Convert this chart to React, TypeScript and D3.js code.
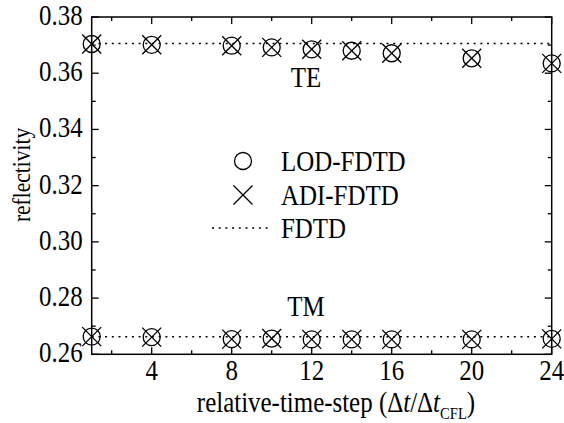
import { scaleLinear } from "d3";

// relative time step (Δt/Δt_CFL)
const steps = [1, 4, 8, 10, 12, 14, 16, 20, 24];

// reflectivity, TE polarisation
const lodTE = [0.3704, 0.3701, 0.3698, 0.3692, 0.3685, 0.368, 0.3671, 0.3653, 0.3635];
const adiTE = [0.3704, 0.3701, 0.3698, 0.3692, 0.3685, 0.368, 0.3671, 0.3653, 0.3635];
// reflectivity, TM polarisation
const lodTM = [0.2663, 0.2661, 0.2654, 0.2656, 0.2653, 0.2653, 0.2653, 0.2653, 0.2655];
const adiTM = [0.2663, 0.2661, 0.2654, 0.2656, 0.2653, 0.2653, 0.2653, 0.2653, 0.2655];
// conventional FDTD reference
const fdtdTE = 0.3706;
const fdtdTM = 0.2662;

const xMajor = [4, 8, 12, 16, 20, 24];
const xMinor = [2, 6, 10, 14, 18, 22];
const yMajor = [0.26, 0.28, 0.3, 0.32, 0.34, 0.36, 0.38];
const yMinor = [0.27, 0.29, 0.31, 0.33, 0.35, 0.37];

const legendItems = ["LOD-FDTD", "ADI-FDTD", "FDTD"];

const FONT = "Liberation Serif, DejaVu Serif, serif";
const SX = 0.86; // glyphs in the reference are a little condensed

const T = ({
  x,
  y,
  size = 29,
  anchor = "start",
  children,
}: {
  x: number;
  y: number;
  size?: number;
  anchor?: "start" | "middle" | "end";
  children: React.ReactNode;
}) => (
  <text
    transform={`translate(${x},${y}) scale(${SX},1)`}
    textAnchor={anchor}
    fontSize={size}
    style={{ fontFamily: FONT }}
    fill="#000"
  >
    {children}
  </text>
);

const Circle = ({ cx, cy }: { cx: number; cy: number }) => (
  <circle cx={cx} cy={cy} r={8.5} fill="none" stroke="#000" strokeWidth={1.3} />
);

const Cross = ({ cx, cy }: { cx: number; cy: number }) => {
  const s = 9.5;
  return (
    <g stroke="#000" strokeWidth={1.3}>
      <line x1={cx - s} y1={cy - s} x2={cx + s} y2={cy + s} />
      <line x1={cx - s} y1={cy + s} x2={cx + s} y2={cy - s} />
    </g>
  );
};

export default function App() {
  const left = 91.7;
  const right = 551.7;
  const top = 17;
  const bottom = 354.3;

  const x = scaleLinear().domain([1, 24]).range([left, right]);
  const y = scaleLinear().domain([0.26, 0.38]).range([bottom, top]);

  const dots = "2 4.7";
  const major = 7;
  const minor = 4;

  const legendY = [161, 195, 228];
  const legendTextY = [171, 205, 238];

  return (
    <svg
      width={564}
      height={423}
      style={{ position: "absolute", left: 0, top: 0, background: "#fff" }}
    >
      {/* FDTD reference lines */}
      {[fdtdTE, fdtdTM].map((v, i) => (
        <line
          key={`fdtd-${i}`}
          x1={x(1)}
          x2={x(24)}
          y1={y(v)}
          y2={y(v)}
          stroke="#000"
          strokeWidth={1.5}
          strokeDasharray={dots}
        />
      ))}

      {/* frame */}
      <rect
        x={left}
        y={top}
        width={right - left}
        height={bottom - top}
        fill="none"
        stroke="#000"
        strokeWidth={1.5}
      />

      {/* x ticks, bottom and top */}
      {[...xMajor.map((t) => [t, major]), ...xMinor.map((t) => [t, minor])].map(
        ([t, len], i) => (
          <g key={`xt-${i}`} stroke="#000" strokeWidth={1.3}>
            <line x1={x(t)} x2={x(t)} y1={bottom} y2={bottom - len} />
            <line x1={x(t)} x2={x(t)} y1={top} y2={top + len} />
          </g>
        )
      )}
      {/* y ticks, left and right */}
      {[...yMajor.map((t) => [t, major]), ...yMinor.map((t) => [t, minor])].map(
        ([t, len], i) => (
          <g key={`yt-${i}`} stroke="#000" strokeWidth={1.3}>
            <line x1={left} x2={left + len} y1={y(t)} y2={y(t)} />
            <line x1={right} x2={right - len} y1={y(t)} y2={y(t)} />
          </g>
        )
      )}

      {xMajor.map((t) => (
        <T key={`xl-${t}`} x={x(t)} y={bottom + 26} anchor="middle">
          {t}
        </T>
      ))}
      {yMajor.map((t) => (
        <T key={`yl-${t}`} x={left - 9} y={y(t) + 8} anchor="end">
          {t.toFixed(2)}
        </T>
      ))}

      {/* markers */}
      {steps.map((s, i) => (
        <g key={`m-${s}`}>
          <Circle cx={x(s)} cy={y(lodTE[i])} />
          <Cross cx={x(s)} cy={y(adiTE[i])} />
          <Circle cx={x(s)} cy={y(lodTM[i])} />
          <Cross cx={x(s)} cy={y(adiTM[i])} />
        </g>
      ))}

      <T x={306} y={87} anchor="middle">TE</T>
      <T x={306} y={316} anchor="middle">TM</T>

      {/* legend */}
      <Circle cx={243} cy={legendY[0]} />
      <Cross cx={243} cy={legendY[1]} />
      <line
        x1={212}
        x2={268}
        y1={legendY[2]}
        y2={legendY[2]}
        stroke="#000"
        strokeWidth={1.5}
        strokeDasharray={dots}
      />
      {legendItems.map((name, i) => (
        <T key={name} x={281} y={legendTextY[i]}>
          {name}
        </T>
      ))}

      {/* axis titles */}
      <T x={336} y={412} anchor="middle">
        relative-time-step (Δ<tspan fontStyle="italic">t</tspan>/Δ
        <tspan fontStyle="italic">t</tspan>
        <tspan fontSize={17} dy={7}>CFL</tspan>
        <tspan dy={-7}>)</tspan>
      </T>
      <text
        transform={`translate(30,175) rotate(-90) scale(${SX},1)`}
        textAnchor="middle"
        fontSize={25}
        style={{ fontFamily: FONT }}
        fill="#000"
      >
        reflectivity
      </text>
    </svg>
  );
}
